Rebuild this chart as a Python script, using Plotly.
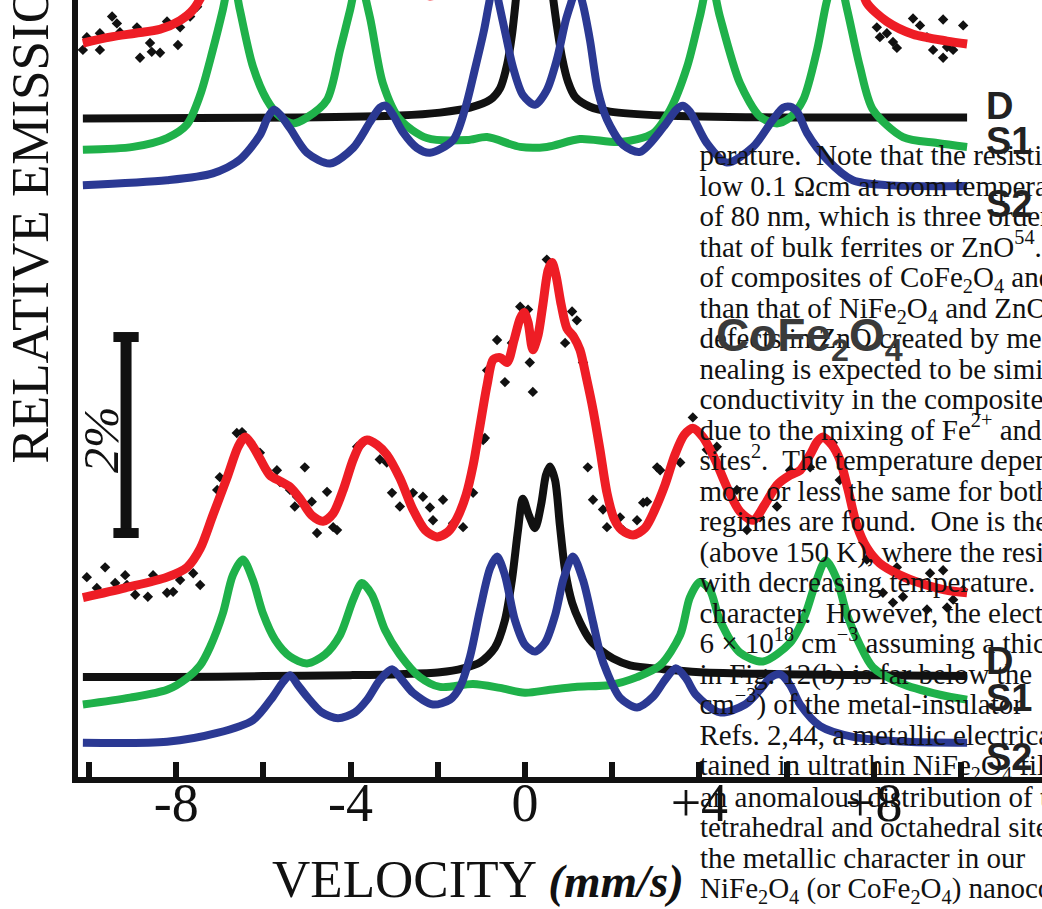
import plotly.graph_objects as go

# ---------------- CoFe2O4 spectrum (lower set) ----------------
# velocity in mm/s, relative emission in %
co_fit_v = [-10.14, -9.17, -8.21, -7.75, -7.45, -7.16, -6.83, -6.58, -6.42, -6.26, -6.08, -5.85, -5.62, -5.39,
            -5.16, -4.89, -4.63, -4.40, -4.17, -3.94, -3.78, -3.62, -3.39, -3.17, -2.87, -2.57, -2.29, -2.02,
            -1.77, -1.56, -1.35, -1.19, -1.03, -0.87, -0.73, -0.57, -0.41, -0.25, -0.11, -0.02, 0.07, 0.18,
            0.30, 0.41, 0.53, 0.62, 0.71, 0.83, 0.96, 1.12, 1.26, 1.42, 1.56, 1.72, 1.88, 2.04, 2.22, 2.48,
            2.75, 2.98, 3.21, 3.44, 3.65, 3.85, 4.08, 4.36, 4.63, 4.93, 5.23, 5.50, 5.78, 6.08, 6.31, 6.54,
            6.70, 6.83, 7.04, 7.22, 7.41, 7.61, 7.84, 8.14, 8.60, 9.06, 9.63, 10.14]
co_fit_y = [1.86, 1.96, 2.07, 2.17, 2.36, 2.70, 3.09, 3.40, 3.50, 3.42, 3.28, 3.11, 3.05, 2.99,
            2.87, 2.70, 2.64, 2.72, 2.96, 3.27, 3.42, 3.47, 3.42, 3.32, 3.08, 2.76, 2.55, 2.48,
            2.53, 2.67, 2.91, 3.21, 3.62, 4.03, 4.29, 4.31, 4.26, 4.49, 4.71, 4.77, 4.67, 4.39,
            4.54, 4.85, 5.20, 5.28, 5.15, 4.85, 4.61, 4.52, 4.39, 4.08, 3.78, 3.37, 2.93, 2.67, 2.55, 2.50,
            2.57, 2.76, 3.01, 3.32, 3.52, 3.59, 3.50, 3.27, 2.99, 2.74, 2.65, 2.81, 3.01, 3.11, 3.16, 3.32,
            3.45, 3.50, 3.42, 3.27, 2.96, 2.60, 2.37, 2.21, 2.09, 2.01, 1.94, 1.91]

co_pts_v = [-10.05, -9.82, -9.63, -9.40, -9.17, -9.13, -8.94, -8.65, -8.53, -8.21, -8.07, -7.91, -7.61, -7.45,
            -7.06, -7.00, -6.61, -6.49, -6.08, -5.92, -5.69, -5.62, -5.39, -5.23, -5.28, -5.05, -4.89, -4.77,
            -4.54, -4.40, -4.31, -3.85, -3.72, -3.33, -3.17, -3.05, -2.87, -2.57, -2.34, -2.18, -2.11, -1.88,
            -1.65, -1.42, -1.19, -0.96, -0.92, -0.87, -0.64, -0.46, -0.30, -0.11, 0.07, 0.11, 0.18, 0.50,
            0.92, 1.08, 1.19, 1.33, 1.44, 1.56, 1.79, 1.88, 2.18, 2.25, 2.57, 2.71, 2.80, 3.03, 3.10, 3.56,
            3.85, 4.17, 4.40, 4.86, 5.09, 5.39, 5.78, 6.08, 6.54, 7.06, 7.22, 7.84, 8.21, 8.44, 8.53, 8.67,
            9.22, 9.29, 9.59, 9.68, 9.82, 10.05]
co_pts_y = [2.07, 1.96, 2.17, 2.01, 2.09, 1.99, 1.89, 1.87, 2.09, 1.91, 1.92, 2.04, 2.11, 1.99,
            2.96, 3.09, 3.54, 3.55, 3.34, 3.16, 3.16, 3.04, 2.96, 2.89, 2.79, 3.19, 2.84, 2.52,
            2.94, 2.58, 2.55, 3.40, 3.44, 3.27, 3.24, 2.93, 2.79, 2.93, 2.89, 2.78, 2.65, 2.86,
            2.62, 2.58, 2.93, 3.47, 3.49, 4.18, 4.49, 4.06, 4.46, 4.83, 4.80, 4.26, 3.96, 5.31,
            4.46, 4.78, 4.69, 4.26, 3.19, 2.86, 2.76, 2.58, 2.68, 2.55, 2.65, 2.83, 2.84, 3.19, 3.16, 3.24,
            3.70, 3.37, 3.40, 2.96, 2.55, 2.68, 2.79, 3.16, 3.19, 3.44, 3.06, 2.25, 1.91, 1.81, 2.17, 1.87,
            1.74, 2.11, 2.14, 1.76, 1.84, 1.94]

co_d_v = [-10.14, -8.03, -6.01, -4.01, -2.87, -1.95, -1.42, -1.03, -0.69, -0.46, -0.30, -0.16, -0.05, 0.09,
          0.23, 0.37, 0.48, 0.57, 0.69, 0.80, 0.92, 1.08, 1.26, 1.49, 1.72, 2.02, 2.41, 3.17, 4.01, 5.85,
          7.91, 10.14]
co_d_y = [1.05, 1.05, 1.06, 1.07, 1.08, 1.10, 1.14, 1.20, 1.35, 1.63, 2.04, 2.55, 2.87, 2.70,
          2.57, 2.81, 3.11, 3.20, 3.06, 2.60, 2.14, 1.81, 1.61, 1.43, 1.33, 1.24, 1.17, 1.13, 1.10, 1.08,
          1.07, 1.06]

co_s1_v = [-10.14, -9.06, -8.21, -7.75, -7.45, -7.22, -6.93, -6.70, -6.47, -6.24, -6.01, -5.73, -5.39, -5.00,
           -4.59, -4.24, -3.94, -3.74, -3.51, -3.21, -2.87, -2.41, -1.95, -1.19, -0.57, 0.00, 0.57, 1.15,
           1.95, 2.57, 3.10, 3.56, 3.78, 4.01, 4.24, 4.47, 4.93, 5.46, 6.08, 6.42, 6.65, 6.90, 7.16, 7.39,
           7.68, 7.98, 8.60, 9.52, 10.14]
co_s1_y = [0.77, 0.84, 0.92, 1.04, 1.17, 1.36, 1.70, 2.09, 2.25, 2.04, 1.70, 1.43, 1.26, 1.19,
           1.28, 1.48, 1.84, 2.01, 1.89, 1.53, 1.28, 1.05, 0.95, 0.98, 0.94, 0.89, 0.92, 0.95,
           0.97, 1.05, 1.17, 1.48, 1.86, 2.02, 1.94, 1.63, 1.30, 1.21, 1.40, 1.68, 1.99, 2.24, 2.04, 1.68,
           1.38, 1.15, 0.99, 0.87, 0.82]

co_s2_v = [-10.14, -8.21, -7.06, -6.24, -5.78, -5.55, -5.39, -5.21, -5.00, -4.66, -4.29, -3.90, -3.62, -3.33,
           -3.05, -2.82, -2.57, -2.11, -1.72, -1.49, -1.26, -1.03, -0.80, -0.64, -0.46, -0.23, 0.00, 0.23,
           0.46, 0.69, 0.89, 1.10, 1.33, 1.56, 1.72, 1.88, 2.18, 2.57, 2.94, 3.21, 3.46, 3.69, 3.92, 4.47,
           5.05, 5.39, 5.62, 5.85, 6.08, 6.31, 6.77, 7.52, 8.76, 10.14]
co_s2_y = [0.38, 0.39, 0.48, 0.61, 0.85, 1.00, 1.07, 0.97, 0.85, 0.69, 0.63, 0.69, 0.82, 1.02,
           1.13, 1.02, 0.89, 0.77, 0.82, 0.95, 1.26, 1.74, 2.16, 2.28, 2.09, 1.63, 1.38, 1.31,
           1.40, 1.68, 2.06, 2.28, 2.04, 1.61, 1.30, 1.10, 0.84, 0.74, 0.85, 1.02, 1.14, 1.04, 0.87, 0.69,
           0.77, 0.92, 1.04, 1.08, 0.97, 0.77, 0.55, 0.44, 0.39, 0.38]

# ---------------- NiFe2O4 spectrum (upper set, runs off the top) ----------------
ni_fit_v = [-10.14, -9.52, -8.94, -8.37, -7.91, -7.61, -7.34, -7.04, -6.81, -6.54, -6.19, -5.85, -5.39, -5.05,
            -4.70, -4.24, -3.85, -3.44, -2.98, -2.52, -2.18, -1.83, -1.49, -1.15, -0.57, 0.11, 0.62, 1.15,
            1.72, 2.18, 2.64, 3.10, 3.78, 4.24, 4.82, 5.39, 5.85, 6.54, 7.11, 7.45, 7.68, 7.84, 8.30, 8.90,
            9.68, 10.14]
ni_fit_y = [7.52, 7.58, 7.62, 7.66, 7.75, 7.86, 8.08, 8.57, 9.08, 9.18, 8.93, 8.72, 8.57, 8.52,
            8.67, 8.98, 9.24, 8.93, 8.47, 8.11, 8.00, 8.08, 8.47, 9.18, 10.0, 10.5, 10.6, 10.2,
            9.29, 8.57, 8.27, 8.47, 9.08, 9.18, 8.78, 8.47, 8.52, 8.88, 9.18, 8.67, 8.16, 7.93, 7.74, 7.61,
            7.54, 7.51]

ni_pts_v = [-10.14, -10.05, -9.75, -9.75, -9.47, -9.36, -9.29, -8.90, -8.83, -8.60, -8.56, -8.37, -8.21,
            -7.96, -7.91, -7.68, -7.52, 8.07, 8.14, 8.30, 8.44, 8.53, 8.90, 9.06, 9.22, 9.36, 9.59, 9.59,
            9.68, 9.82, 10.05]
ni_pts_y = [7.45, 7.58, 7.62, 7.45, 7.79, 7.72, 7.63, 7.68, 7.37, 7.52, 7.43, 7.42, 7.74,
            7.50, 7.68, 7.79, 7.89, 7.68, 7.58, 7.62, 7.53, 7.47, 7.77, 7.70, 7.58, 7.45, 7.37, 7.76,
            7.48, 7.45, 7.70]

ni_d_v = [-10.14, -5.16, -2.87, -1.95, -1.26, -0.80, -0.57, -0.41, -0.30, -0.21, -0.11, 0.02, 0.18, 0.34,
          0.50, 0.62, 0.73, 0.85, 0.99, 1.15, 1.49, 1.95, 3.17, 5.85, 10.14]
ni_d_y = [6.75, 6.76, 6.78, 6.81, 6.86, 6.94, 7.06, 7.30, 7.60, 7.96, 8.42, 8.72, 8.57, 8.72,
          8.47, 8.06, 7.70, 7.37, 7.12, 6.97, 6.87, 6.82, 6.78, 6.76, 6.76]

ni_s1_v = [-10.14, -8.99, -8.21, -7.75, -7.45, -7.16, -6.93, -6.73, -6.54, -6.24, -5.92, -5.62, -5.32, -5.00,
           -4.54, -4.24, -4.01, -3.82, -3.56, -3.26, -2.87, -2.25, -1.33, -0.87, -0.11, 0.50, 1.26, 2.18,
           2.94, 3.33, 3.72, 4.01, 4.24, 4.47, 4.93, 5.39, 5.78, 6.08, 6.38, 6.70, 6.93, 7.16, 7.39, 7.68,
           7.98, 8.67, 9.45, 10.14]
ni_s1_y = [6.43, 6.46, 6.55, 6.69, 6.99, 7.45, 7.86, 8.25, 7.86, 7.28, 6.94, 6.77, 6.70, 6.76,
           6.94, 7.45, 7.86, 8.20, 7.79, 7.11, 6.74, 6.55, 6.53, 6.56, 6.46, 6.46, 6.54, 6.51,
           6.60, 6.84, 7.28, 7.79, 8.20, 7.79, 7.11, 6.77, 6.70, 6.76, 6.94, 7.45, 7.96, 8.25, 7.86, 7.28,
           6.84, 6.56, 6.50, 6.46]

ni_s2_v = [-10.14, -8.21, -7.16, -6.54, -6.08, -5.90, -5.76, -5.62, -5.39, -5.00, -4.47, -3.94, -3.56, -3.33,
           -3.19, -3.03, -2.80, -2.48, -2.18, -1.65, -1.38, -1.15, -0.94, -0.83, -0.71, -0.60, -0.44, -0.28,
           -0.05, 0.23, 0.50, 0.73, 0.94, 1.08, 1.19, 1.33, 1.49, 1.67, 1.88, 2.25, 2.64, 3.17, 3.47, 3.62,
           3.78, 4.17, 4.63, 5.23, 5.69, 5.92, 6.08, 6.24, 6.47, 6.93, 7.52, 8.30, 10.14]
ni_s2_y = [6.07, 6.12, 6.19, 6.33, 6.58, 6.76, 6.84, 6.79, 6.65, 6.40, 6.29, 6.45, 6.71, 6.86,
           6.88, 6.79, 6.61, 6.45, 6.40, 6.53, 6.84, 7.25, 7.65, 7.91, 8.16, 7.93, 7.60, 7.28,
           6.99, 6.89, 7.04, 7.35, 7.76, 7.96, 8.11, 7.91, 7.55, 7.04, 6.74, 6.48, 6.41, 6.66, 6.84, 6.88,
           6.82, 6.50, 6.30, 6.46, 6.74, 6.86, 6.87, 6.82, 6.60, 6.33, 6.12, 6.07, 6.06]

# ---------------- axis ----------------
label_ticks = [-8, -4, 0, 4, 8]
label_text = ["-8", "-4", "0", "+4", "+8"]
minor_ticks = [-10, -6, -2, 2, 6, 10]
SCALE_BAR_PCT = 2.0

# page of text printed across the right half of the figure
paragraph_lines = [
    "perature.\u00a0 Note that the resistivity",
    "low 0.1 \u03a9cm at room temperature",
    "of 80 nm, which is three orders of",
    "that of bulk ferrites or ZnO<sup>54</sup>.",
    "of composites of CoFe<sub>2</sub>O<sub>4</sub> and",
    "than that of NiFe<sub>2</sub>O<sub>4</sub> and ZnO",
    "defects in ZnO created by means",
    "nealing is expected to be similar",
    "conductivity in the composites",
    "due to the mixing of Fe<sup>2+</sup> and",
    "sites<sup>2</sup>.\u00a0 The temperature depen",
    "more or less the same for both",
    "regimes are found.\u00a0 One is the",
    "(above 150 K), where the resis",
    "with decreasing temperature.",
    "character.\u00a0 However, the electron",
    "6 \u00d7 10<sup>18</sup> cm<sup>\u22123</sup> assuming a thick",
    "in Fig. 12(b) is far below the",
    "cm<sup>\u22123</sup>) of the metal-insulator",
    "Refs. 2,44, a metallic electrical",
    "tained in ultrathin NiFe<sub>2</sub>O<sub>4</sub> films",
    "an anomalous distribution of the",
    "tetrahedral and octahedral sites",
    "the metallic character in our",
    "NiFe<sub>2</sub>O<sub>4</sub> (or CoFe<sub>2</sub>O<sub>4</sub>) nanocom",
]

RED = "#ee1d25"
GREEN = "#1fb14a"
BLUE = "#2b3993"
BLACK = "#111111"
SERIF = "Liberation Serif"
SANS = "Liberation Sans"

fig = go.Figure()


def curve(v, y, color, width):
    fig.add_trace(go.Scatter(x=v, y=y, mode="lines", hoverinfo="skip",
                             line=dict(color=color, width=width, shape="spline", smoothing=0.8)))


def points(v, y):
    fig.add_trace(go.Scatter(x=v, y=y, mode="markers", hoverinfo="skip",
                             marker=dict(symbol="diamond", size=8, color=BLACK)))


for d_v, d_y, s1_v, s1_y, s2_v, s2_y, p_v, p_y, f_v, f_y in [
    (ni_d_v, ni_d_y, ni_s1_v, ni_s1_y, ni_s2_v, ni_s2_y, ni_pts_v, ni_pts_y, ni_fit_v, ni_fit_y),
    (co_d_v, co_d_y, co_s1_v, co_s1_y, co_s2_v, co_s2_y, co_pts_v, co_pts_y, co_fit_v, co_fit_y),
]:
    curve(d_v, d_y, BLACK, 8)
    curve(s1_v, s1_y, GREEN, 8)
    curve(s2_v, s2_y, BLUE, 8)
    points(p_v, p_y)
    curve(f_v, f_y, RED, 9)

# ---- paragraph text: rows inside the axes box as a text trace, rows below it as annotations ----
TEXT_SIZE = 29
PX_PER_PCT = 98.0
PLOT_H = 777.0                    # px height of the axes box
first_baseline_px = 165.0         # from the top of the figure
line_step_px = 30.5
n_inside = 21
y_top = 7.959                     # top of the y range

inside_y = [y_top - (first_baseline_px + i * line_step_px - 0.25 * TEXT_SIZE) / PX_PER_PCT
            for i in range(n_inside)]
fig.add_trace(go.Scatter(
    x=[4.0] * n_inside, y=inside_y, text=paragraph_lines[:n_inside],
    mode="text", textposition="middle right", cliponaxis=False,
    hoverinfo="skip", textfont=dict(family=SERIF, size=TEXT_SIZE, color=BLACK)))

annotations = []
for i in range(n_inside, len(paragraph_lines)):
    box_top_px = first_baseline_px + i * line_step_px - 0.891 * TEXT_SIZE - 1
    annotations.append(dict(text=paragraph_lines[i], x=0.6432, y=(PLOT_H - box_top_px) / PLOT_H,
                            xanchor="left", yanchor="top",
                            font=dict(family=SERIF, size=TEXT_SIZE, color=BLACK)))

# 2 % scale bar
bar_x, bar_y0, cap = -9.15, 2.52, 0.29
shapes = [
    dict(type="line", x0=bar_x, x1=bar_x, y0=bar_y0, y1=bar_y0 + SCALE_BAR_PCT,
         line=dict(color=BLACK, width=11)),
    dict(type="line", x0=bar_x - cap, x1=bar_x + cap, y0=bar_y0, y1=bar_y0,
         line=dict(color=BLACK, width=10)),
    dict(type="line", x0=bar_x - cap, x1=bar_x + cap, y0=bar_y0 + SCALE_BAR_PCT, y1=bar_y0 + SCALE_BAR_PCT,
         line=dict(color=BLACK, width=10)),
]

annotations += [
    dict(text="RELATIVE EMISSION", x=-0.0508, y=0.7355, textangle=-90,
         font=dict(family=SERIF, size=53, color=BLACK)),
    dict(text="VELOCITY <b><i><span style='font-size:47px'>(mm/s)</span></i></b>", x=0.4154, y=-0.1313,
         font=dict(family=SERIF, size=53, color=BLACK)),
    dict(text="<i>%d%%</i>" % SCALE_BAR_PCT, x=0.0239, y=0.4337, textangle=-90,
         font=dict(family=SERIF, size=50, color=BLACK)),
    dict(text="CoFe<sub>2</sub>O<sub>4</sub>", x=0.6598, y=0.6049, xanchor="left", yanchor="top",
         font=dict(family=SANS, size=46, color="#3a3a3a", weight="bold")),
]
for label, ypos in [("D", 0.8636), ("S1", 0.8185), ("S2", 0.7375),
                    ("D", 0.1493), ("S1", 0.1017), ("S2", 0.0257)]:
    annotations.append(dict(text="<b>%s</b>" % label, x=0.9398, y=ypos, xanchor="left",
                            font=dict(family=SANS, size=38, color="#222222")))
for a in annotations:
    a.setdefault("xref", "paper")
    a.setdefault("yref", "paper")
    a.setdefault("showarrow", False)
    a.setdefault("xanchor", "center")
    a.setdefault("yanchor", "middle")

fig.update_layout(
    width=1042, height=909,
    margin=dict(l=78, r=0, t=0, b=132),
    paper_bgcolor="white", plot_bgcolor="white",
    showlegend=False,
    shapes=shapes,
    annotations=annotations,
    xaxis=dict(range=[-10.252, 11.858], showline=True, linewidth=6, linecolor=BLACK,
               ticks="inside", ticklen=15, tickwidth=6, tickcolor=BLACK,
               tickvals=label_ticks, ticktext=label_text, ticklabelstandoff=-27,
               tickfont=dict(family=SERIF, size=54, color=BLACK),
               minor=dict(tickvals=minor_ticks, ticks="inside", ticklen=15, tickwidth=6,
                          tickcolor=BLACK, showgrid=False),
               showgrid=False, zeroline=False, fixedrange=True),
    yaxis=dict(range=[0.0306, y_top], showline=True, linewidth=6, linecolor=BLACK,
               ticks="", showticklabels=False, showgrid=False, zeroline=False, fixedrange=True),
)

fig.write_html("out.html")
